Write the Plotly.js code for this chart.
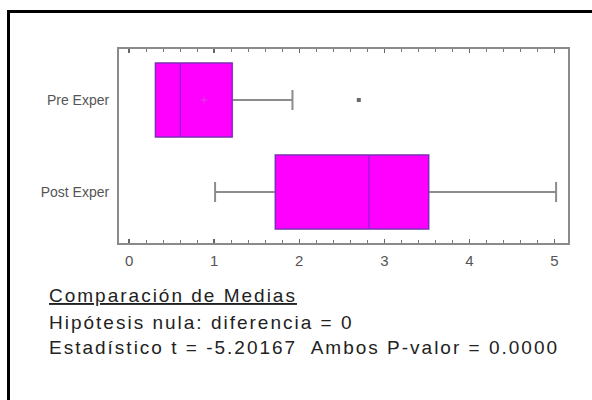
<!DOCTYPE html>
<html>
<head>
<meta charset="utf-8">
<script src="https://cdn.plot.ly/plotly-3.0.1.min.js"></script>
<style>
  html, body { margin: 0; padding: 0; background: #ffffff; }
  #chart { width: 592px; height: 400px; }
  #chart .annotation-text { letter-spacing: 2px; }
</style>
</head>
<body>
<div id="chart"></div>
<script>
// ---- data ----
const groups      = ['Pre Exper', 'Post Exper'];
const lowerFence  = [0.31, 1.01];
const q1Values    = [0.31, 1.72];
const medianVals  = [0.60, 2.82];
const q3Values    = [1.21, 3.52];
const upperFence  = [1.92, 5.02];
const outlierX    = [2.70];
const outlierY    = ['Pre Exper'];
const meanX       = [0.88];
const meanY       = ['Pre Exper'];
const xTickVals   = [0, 1, 2, 3, 4, 5];
const textLines   = [
  'Comparación de Medias',
  'Hipótesis nula: diferencia = 0',
  'Estadístico t = -5.20167\u00a0 Ambos P-valor = 0.0000'
];

const MAGENTA = '#ff00ff';

const traces = [
  { // whiskers (gray)
    type: 'box', orientation: 'h', y: groups,
    q1: q1Values, median: medianVals, q3: q3Values,
    lowerfence: lowerFence, upperfence: upperFence,
    boxpoints: false, width: 0.8, whiskerwidth: 0.27,
    fillcolor: MAGENTA, line: { color: '#8c8c8c', width: 2 },
    hoverinfo: 'skip', showlegend: false
  },
  { // box body (purple outline and median)
    type: 'box', orientation: 'h', y: groups,
    q1: q1Values, median: medianVals, q3: q3Values,
    lowerfence: q1Values, upperfence: q3Values,
    boxpoints: false, width: 0.8, whiskerwidth: 0,
    fillcolor: MAGENTA, line: { color: '#8a1fd0', width: 1.2 },
    hoverinfo: 'skip', showlegend: false
  },
  { // mean marker
    type: 'scatter', mode: 'markers', x: meanX, y: meanY,
    marker: { symbol: 'cross-thin', size: 5, line: { color: '#e23ae2', width: 1 } },
    hoverinfo: 'skip', showlegend: false
  },
  { // outlier
    type: 'scatter', mode: 'markers', x: outlierX, y: outlierY,
    marker: { symbol: 'square', size: 4, color: '#6a6a6a' },
    hoverinfo: 'skip', showlegend: false
  }
];

// plot area geometry (px) used to place the frame and text in paper units
const L = 119, R = 24, T = 49, B = 157, W = 592, H = 400;
const pw = W - L - R, ph = H - T - B;
const px = v => (v - L) / pw;
const py = v => (H - B - v) / ph;

const textY = [295, 322, 347];
const annotations = textLines.map((t, i) => ({
  text: t, xref: 'paper', yref: 'paper',
  x: px(47), y: py(textY[i]), xanchor: 'left', yanchor: 'middle', align: 'left',
  showarrow: false,
  font: Object.assign({ family: 'Liberation Sans, Arial, sans-serif', size: 19, color: '#222222' },
                      i === 0 ? { lineposition: 'under' } : {})
}));

const layout = {
  width: W, height: H,
  margin: { l: L, r: R, t: T, b: B, pad: 0 },
  paper_bgcolor: '#ffffff', plot_bgcolor: '#ffffff',
  boxmode: 'overlay',
  showlegend: false,
  xaxis: {
    range: [-0.12, 5.16], tickvals: xTickVals, ticktext: xTickVals.map(String),
    showgrid: false, zeroline: false,
    showline: true, mirror: 'ticks', linecolor: '#8a8a8a', linewidth: 2,
    ticks: 'inside', ticklen: 4, tickwidth: 1.5, tickcolor: '#666',
    minor: { dtick: 0.2, tick0: 0, ticks: 'inside', ticklen: 3, tickwidth: 1.2, tickcolor: '#777' },
    ticklabelstandoff: 3,
    tickfont: { family: 'Liberation Sans, Arial, sans-serif', size: 15, color: '#555' }
  },
  yaxis: {
    type: 'category', categoryorder: 'array', categoryarray: groups,
    range: [1.554, -0.554],
    showgrid: false, zeroline: false,
    showline: true, mirror: true, linecolor: '#8a8a8a', linewidth: 2,
    ticks: '', ticklabelstandoff: 5,
    tickfont: { family: 'Liberation Sans, Arial, sans-serif', size: 14, color: '#555' }
  },
  shapes: [{
    type: 'rect', xref: 'paper', yref: 'paper', layer: 'above',
    x0: px(8.5), x1: px(620), y0: py(430), y1: py(11.5),
    line: { color: '#000', width: 3 }, fillcolor: 'rgba(0,0,0,0)'
  }],
  annotations: annotations
};

Plotly.newPlot('chart', traces, layout, { staticPlot: true, displayModeBar: false });
</script>
</body>
</html>
